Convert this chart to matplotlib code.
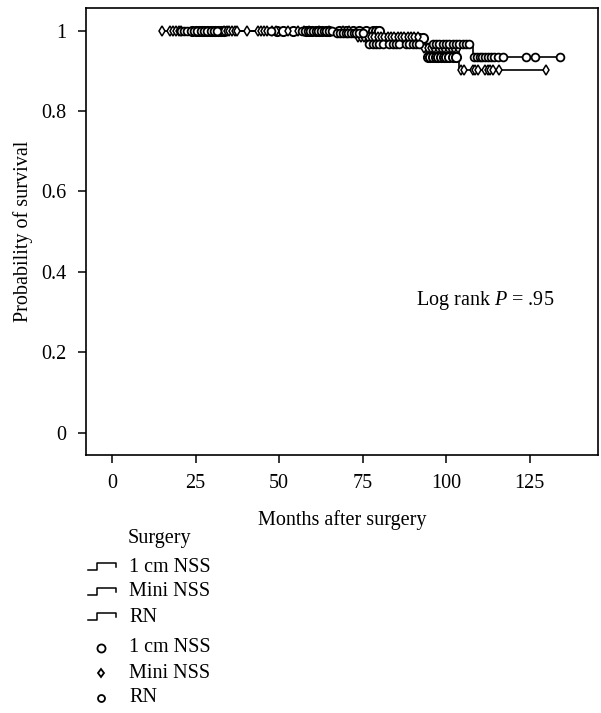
import numpy as np
import matplotlib
matplotlib.use("Agg")
import matplotlib.pyplot as plt
from matplotlib.lines import Line2D

plt.rcParams['font.family'] = ['Liberation Serif', 'DejaVu Serif']
plt.rcParams['mathtext.fontset'] = 'custom'
plt.rcParams['mathtext.rm'] = 'Liberation Serif'
plt.rcParams['mathtext.it'] = 'Liberation Serif:italic'

groups = ['1 cm NSS', 'Mini NSS', 'RN']

# start of follow-up, event times with survival after each event, censored times
cm_start = 22
cm_events = [81, 94]
cm_surv = [0.981, 0.933]
cm_cens = [24, 25, 26, 26.8, 27.6, 28.4, 29.2, 30, 30.8, 31.6, 32.5, 33.4, 49.5, 51.2, 54.2,
           58, 59, 60, 61, 62, 63, 64, 65, 68, 70, 72, 74, 76, 78, 79, 80,
           82, 83, 85, 86, 87.5, 89, 90.5, 92, 93,
           94.5, 95.3, 96.1, 96.9, 97.7, 98.5, 99.3, 100.1, 101, 102, 103]

mini_start = 15
mini_events = [73, 93, 104]
mini_surv = [0.985, 0.957, 0.902]
mini_cens = [15, 17.5, 18.3, 19.1, 19.9, 20.7, 33.5, 34.3, 35.1, 35.9, 36.7, 37.5, 40.3,
             43.7, 44.5, 45.5, 46.4, 47.8, 49, 52.7, 55.7, 57.5, 59, 62, 65, 69, 71,
             73.5, 74.5, 75.5, 76.5, 77.5, 78.5, 79.5, 80.5, 81.5, 82.5, 83.5, 84.5, 85.5,
             86.5, 87.5, 88.5, 89.5, 90.5, 91.5,
             93.5, 94.5, 95.5, 96.5, 97.5, 98.5, 99.5, 100.5, 101.5, 102.5, 103.5,
             104.5, 105.3, 108, 108.8, 109.6, 111.7, 112.5, 113.3, 114, 116, 130]

rn_start = 18
rn_events = [67, 76, 108]
rn_surv = [0.993, 0.966, 0.933]
rn_cens = [20.5, 21.5, 22.5, 23.5, 24.5, 25.5, 26.5, 27.5, 28.5, 29.5, 30.5, 31.5, 47.5,
           57, 57.8, 58.6, 59.4, 60.2, 61, 61.8, 62.6, 63.4, 64.2, 65, 65.8,
           67.5, 68.3, 69.1, 69.9, 70.7, 71.5, 72.3, 73.1, 74, 75,
           77, 78, 79, 80, 81, 83, 84, 85, 86, 88, 89, 90, 91, 92, 96, 97, 98, 99,
           100, 101, 102, 103, 104, 105, 106, 107,
           108.5, 109.3, 110.1, 110.9, 111.7, 112.5, 113.5, 114.5, 115.5, 117, 124, 126.5, 134]

xticks = [0, 25, 50, 75, 100, 125]
yticks = [0, 0.2, 0.4, 0.6, 0.8, 1]
ytick_labels = ['0', '0.2', '0.4', '0.6', '0.8', '1']

W, H = 601, 713
FS = 14.5
fig = plt.figure(figsize=(W / 100, H / 100), dpi=100)
ax = fig.add_axes([86 / W, 1 - 455 / H, (598 - 86) / W, (455 - 8) / H])

def px(x, y):
    return x / W, 1 - y / H

def km_curve(start, events, surv, cens):
    t = np.array([start] + events + [max(cens)])
    s = np.array([1.0] + surv + [surv[-1]])
    idx = np.searchsorted(np.array(events), np.array(cens), side='right')
    s_c = np.array([1.0] + surv)[idx]
    return t, s, np.array(cens), s_c

styles = {
    '1 cm NSS': dict(marker='o', ms=6.6, mew=1.4),
    'Mini NSS': dict(marker='d', ms=4.6, mew=1.1),
    'RN': dict(marker='o', ms=5.6, mew=1.3),
}
data = {
    '1 cm NSS': (cm_start, cm_events, cm_surv, cm_cens),
    'Mini NSS': (mini_start, mini_events, mini_surv, mini_cens),
    'RN': (rn_start, rn_events, rn_surv, rn_cens),
}

for g in groups:
    t, s, tc, sc = km_curve(*data[g])
    ax.plot(t, s, drawstyle='steps-post', color='black', lw=1.2, zorder=2)
for g in groups:
    t, s, tc, sc = km_curve(*data[g])
    st = styles[g]
    ax.plot(tc, sc, ls='none', marker=st['marker'], ms=st['ms'], mfc='white',
            mec='black', mew=st['mew'], zorder=3)

ax.set_xlim(-7.8, 145.5)
ax.set_ylim(-0.055, 1.056)
ax.set_xticks(xticks)
ax.set_yticks(yticks)
ax.set_yticklabels(ytick_labels)
ax.tick_params(direction='out', length=6, width=1.1, labelsize=FS, pad=8, color='black')
for sp in ax.spines.values():
    sp.set_linewidth(1.2)
ax.set_xlabel('Months after surgery', fontsize=FS, labelpad=12)
ax.set_ylabel('Probability of survival', fontsize=FS, labelpad=6)

ax.text(91, 0.33, 'Log rank $P$ = .95', fontsize=FS, ha='left', va='center')

# legend drawn below the axes
fig.text(*px(128, 538), 'Surgery', fontsize=FS, ha='left', va='center')
rows_line = [567, 592, 617]
rows_mark = [648, 673, 698]
for g, y in zip(groups, rows_line):
    xs = [88, 97, 97, 116, 116]
    ys = [y + 3, y + 3, y - 4, y - 4, y]
    fx = [px(a, b)[0] for a, b in zip(xs, ys)]
    fy = [px(a, b)[1] for a, b in zip(xs, ys)]
    fig.add_artist(Line2D(fx, fy, color='black', lw=1.1))
    fig.text(*px(129, y), g, fontsize=FS, ha='left', va='center')
leg_ms = {'1 cm NSS': 5.8, 'Mini NSS': 4.4, 'RN': 5.0}
for g, y in zip(groups, rows_mark):
    st = styles[g]
    fx, fy = px(101, y)
    fig.add_artist(Line2D([fx], [fy], ls='none', marker=st['marker'], ms=leg_ms[g],
                          mfc='white', mec='black', mew=1.3))
    fig.text(*px(129, y), g, fontsize=FS, ha='left', va='center')

fig.savefig('out.png', dpi=100)
